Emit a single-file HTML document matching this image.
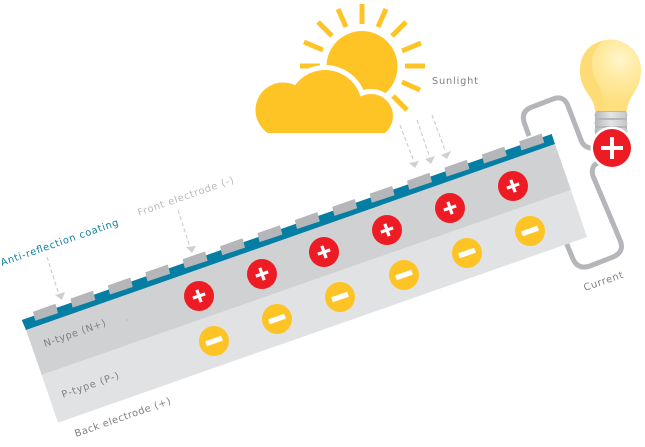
<!DOCTYPE html>
<html>
<head>
<meta charset="utf-8">
<style>
html,body{margin:0;padding:0;background:#fff;width:645px;height:447px;overflow:hidden}
svg{display:block}
text{font-family:"DejaVu Sans",sans-serif;font-size:9.8px}
</style>
</head>
<body>
<svg width="645" height="447" viewBox="0 0 645 447" xmlns="http://www.w3.org/2000/svg">
<defs>
<radialGradient id="g" gradientUnits="userSpaceOnUse" cx="620" cy="60" r="44">
<stop offset="0" stop-color="#fff6cf"/><stop offset=".4" stop-color="#ffeba3"/><stop offset="1" stop-color="#fedf7f"/>
</radialGradient>
<linearGradient id="r" x1="0" x2="1" y1="0" y2="0">
<stop offset="0" stop-color="#b5b6b9"/><stop offset=".5" stop-color="#e4e5e6"/><stop offset="1" stop-color="#c4c5c7"/>
</linearGradient>
<clipPath id="cc"><rect x="240" y="50" width="170" height="83"/></clipPath>
<polygon id="e" points="0,0 22.5,-7.9 25,1.4 2.2,9" fill="#b5b6b9"/>
<g id="p"><circle r="15" fill="#ed1c24"/><g transform="rotate(-19.3)"><rect x="-6.5" y="-1.6" width="13" height="3.2" fill="#fff"/><rect x="-1.6" y="-6.5" width="3.2" height="13" fill="#fff"/></g></g>
<g id="m"><circle r="15" fill="#fec325"/><rect x="-8.5" y="-2.6" width="17" height="5.2" fill="#fff" transform="rotate(-19.3)"/></g>
</defs>

<!-- wires -->
<g fill="none" stroke="#b5b6ba" stroke-width="5">
<path d="M592 148 Q584 148 581 140 L568 106 Q564 95 553 99 L532 107 Q521 111 524 122 L529 136"/>
<path d="M600 162 Q590 165 593 176 L620 240 Q625 252 613 257 L590 266 Q578 270 573 259 L565 240"/>
</g>

<!-- panel -->
<polygon points="41.7,375 571,190 587,237 58,422.7" fill="#e1e2e4"/>
<polygon points="26,330 555,144 571,190 41.7,375" fill="#d0d1d3"/>
<polygon points="21.7,320 551.7,134 555,144 26,330" fill="#047ea3"/>
<g id="els">
<use href="#e" x="33" y="311.7"/><use href="#e" x="70.4" y="298.6"/><use href="#e" x="107.8" y="285.5"/><use href="#e" x="145.2" y="272.4"/><use href="#e" x="182.6" y="259.3"/><use href="#e" x="220" y="246.2"/><use href="#e" x="257.4" y="233.1"/><use href="#e" x="294.8" y="220"/><use href="#e" x="332.2" y="206.9"/><use href="#e" x="369.6" y="193.8"/><use href="#e" x="407" y="180.7"/><use href="#e" x="444.4" y="167.6"/><use href="#e" x="481.8" y="154.5"/><use href="#e" x="519.2" y="141.4"/>
</g>

<use href="#p" x="199" y="296"/><use href="#p" x="262" y="274"/><use href="#p" x="324" y="252"/><use href="#p" x="387" y="230"/><use href="#p" x="450" y="208"/><use href="#p" x="513" y="186"/>
<use href="#m" x="214" y="341"/><use href="#m" x="277" y="319"/><use href="#m" x="340" y="297"/><use href="#m" x="404" y="275"/><use href="#m" x="467" y="253"/><use href="#m" x="530" y="231"/>

<!-- sun rays -->
<g stroke="#fec325" stroke-width="5">
<path d="M362 4V24M386 9L378 27M406 22L392 36M421 43L402 51M425 66H405M420 90L402 82M407 110L393 96M338 9L346 27M318 22L332 36M304 42L323 50M300 66H320"/>
</g>
<circle cx="362" cy="66.5" r="35.5" fill="#fec325"/>

<!-- cloud -->
<g clip-path="url(#cc)">
<g fill="#fff" stroke="#fff" stroke-width="10">
<circle cx="283" cy="110" r="27.5"/><circle cx="325" cy="107" r="37"/><circle cx="371" cy="116" r="22"/>
</g>
<g fill="#fec325">
<circle cx="283" cy="110" r="27.5"/><circle cx="325" cy="107" r="37"/><circle cx="371" cy="116" r="22"/>
<rect x="283" y="100" width="88" height="40"/>
</g>
</g>

<!-- bulb -->
<rect x="595" y="110" width="32" height="28" rx="4" fill="#b5b6b9"/>
<g fill="url(#r)"><rect x="594.5" y="112" width="33" height="6" rx="3"/><rect x="594.5" y="120" width="33" height="6" rx="3"/><rect x="594.5" y="128" width="33" height="6" rx="3"/></g>
<path d="M595 111 C595 96 580 92 580 70 A30.5 30.5 0 0 1 641 70 C641 92 627 96 627 111 Z" fill="url(#g)"/>
<path d="M595 111 C595 96 580 92 580 70 C580 54 590 43 603 41 C592 50 590 62 593 72 C597 86 604 90 604 111 Z" fill="#fedc75"/>

<circle cx="612" cy="148" r="21.5" fill="#fff"/>
<circle cx="612" cy="148" r="19" fill="#ed1c24"/>
<rect x="601" y="146" width="22" height="4" fill="#fff"/><rect x="610" y="137" width="4" height="22" fill="#fff"/>

<!-- arrows -->
<g stroke="#cfd0d2" stroke-width="1.2" stroke-dasharray="4 2.5" fill="none">
<path d="M47 257L59 295M178 210L190 247M400 125L413 159M417 120L429 155M432 115L445 150"/>
</g>
<g fill="#cfd0d2">
<polygon points="55,295 65,292 62,300"/>
<polygon points="186,247 196,246 192,253"/>
<polygon points="409,163 419,161 415,168"/>
<polygon points="425,159 435,156 431,164"/>
<polygon points="441,155 451,151 447,159"/>
</g>

<!-- labels -->
<text transform="translate(2 266) rotate(-19.3)" fill="#0e7fa6" textLength="124" lengthAdjust="spacing">Anti-reflection coating</text>
<text transform="translate(139 216) rotate(-19.3)" fill="#b9babc" textLength="101" lengthAdjust="spacing">Front electrode (-)</text>
<text transform="translate(45 347) rotate(-19.3)" fill="#7f8083" textLength="65" lengthAdjust="spacing">N-type  (N+)</text>
<text transform="translate(63 398) rotate(-19.3)" fill="#7f8083" textLength="60" lengthAdjust="spacing">P-type (P-)</text>
<text transform="translate(76 437) rotate(-19.3)" fill="#7f8083" textLength="101" lengthAdjust="spacing">Back electrode (+)</text>
<text x="432" y="84" fill="#808184" textLength="46" lengthAdjust="spacing">Sunlight</text>
<text transform="translate(585 291) rotate(-19.3)" fill="#808184" textLength="41" lengthAdjust="spacing">Current</text>
<circle cx="127" cy="320" r=".5" fill="#999"/>
</svg>
</body>
</html>
